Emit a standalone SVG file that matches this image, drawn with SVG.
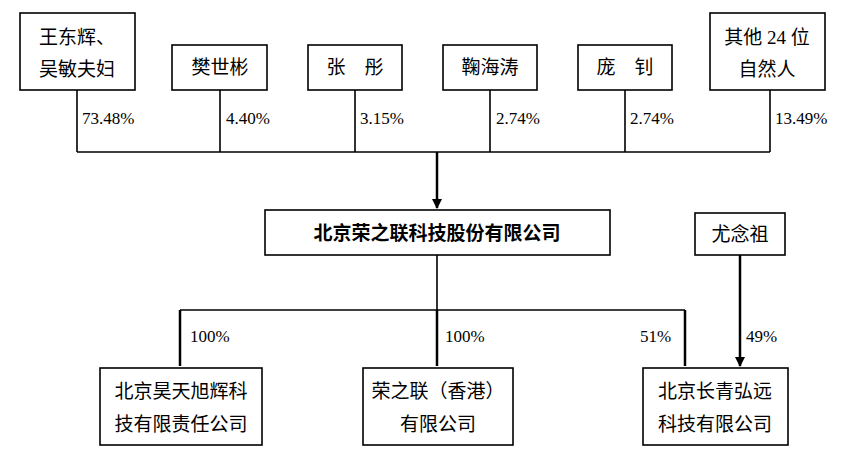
<svg xmlns="http://www.w3.org/2000/svg" width="847" height="473" viewBox="0 0 847 473">
<style>
.b{fill:#fff;stroke:#000;stroke-width:1.6}
.t{font-family:"Liberation Serif","Noto Sans CJK SC",serif;font-size:19px;fill:#000;text-anchor:middle}
.p{font-family:"Liberation Serif","Noto Sans CJK SC",serif;font-size:17px;fill:#000}
.l{stroke:#000;stroke-width:1.6;fill:none}
.a{stroke:#000;stroke-width:2.5;fill:none}
</style>
<defs><marker id="ar" viewBox="0 0 10 10" refX="9" refY="5" markerWidth="4" markerHeight="4" orient="auto"><path d="M0,0L10,5L0,10z" fill="#000"/></marker></defs>
<rect width="847" height="473" fill="#fff"/>
<g id="n1"><rect class="b" x="20" y="13" width="115" height="77"/><text class="t" x="77" y="44">王东辉、</text><text class="t" x="77" y="76">吴敏夫妇</text></g>
<g id="n2"><rect class="b" x="172" y="45" width="95" height="45"/><text class="t" x="220" y="74">樊世彬</text></g>
<g id="n3"><rect class="b" x="308" y="45" width="94" height="45"/><text class="t" x="355" y="74">张　彤</text></g>
<g id="n4"><rect class="b" x="443" y="45" width="94" height="45"/><text class="t" x="490" y="74">鞠海涛</text></g>
<g id="n5"><rect class="b" x="578" y="45" width="94" height="45"/><text class="t" x="625" y="74">庞　钊</text></g>
<g id="n6"><rect class="b" x="710" y="13" width="115" height="77"/><text class="t" x="767" y="44">其他 24 位</text><text class="t" x="767" y="76">自然人</text></g>
<g id="n7"><rect class="b" x="265" y="210" width="345" height="45"/><text class="t" x="437" y="240" font-weight="bold">北京荣之联科技股份有限公司</text></g>
<g id="n8"><rect class="b" x="695" y="213" width="90" height="42"/><text class="t" x="740" y="241">尤念祖</text></g>
<g id="n9"><rect class="b" x="100" y="368" width="162" height="77"/><text class="t" x="181" y="398">北京昊天旭辉科</text><text class="t" x="181" y="431">技有限责任公司</text></g>
<g id="n10"><rect class="b" x="363" y="368" width="150" height="77"/><text class="t" x="438" y="398">荣之联（香港）</text><text class="t" x="438" y="431">有限公司</text></g>
<g id="n11"><rect class="b" x="643" y="368" width="145" height="77"/><text class="t" x="715" y="398">北京长青弘远</text><text class="t" x="715" y="431">科技有限公司</text></g>
<g id="edges">
<path class="l" d="M77,90V152M220,90V152M355,90V152M490,90V152M625,90V152M770,90V152M77,152H770"/>
<path class="a" d="M437,152V208" marker-end="url(#ar)"/>
<path class="l" d="M437,255V310M180,310H685"/>
<path class="a" d="M180,310V366M437,310V366M685,310V366M740,255V366" marker-end="url(#ar)"/>
<text class="p" x="82" y="124">73.48%</text>
<text class="p" x="226" y="124">4.40%</text>
<text class="p" x="360" y="124">3.15%</text>
<text class="p" x="496" y="124">2.74%</text>
<text class="p" x="630" y="124">2.74%</text>
<text class="p" x="775" y="124">13.49%</text>
<text class="p" x="190" y="342">100%</text>
<text class="p" x="445" y="342">100%</text>
<text class="p" x="640" y="342">51%</text>
<text class="p" x="746" y="342">49%</text>
</g>
</svg>
